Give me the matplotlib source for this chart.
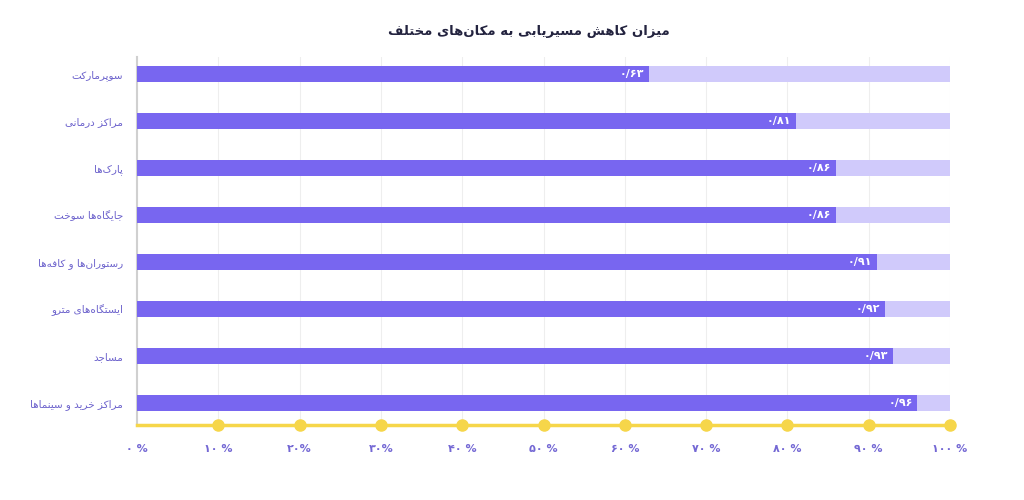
import matplotlib
matplotlib.use('Agg')
import matplotlib.pyplot as plt

plt.rcParams['font.family'] = ['DejaVu Sans']

title = 'میزان کاهش مسیریابی به مکان‌های مختلف'
categories = ['سوپرمارکت', 'مراکز درمانی', 'پارک‌ها', 'جایگاه‌ها سوخت',
              'رستوران‌ها و کافه‌ها', 'ایستگاه‌های مترو', 'مساجد', 'مراکز خرید و سینماها']
values = [0.63, 0.81, 0.86, 0.86, 0.91, 0.92, 0.93, 0.96]
value_labels = ['۰/۶۳', '۰/۸۱', '۰/۸۶', '۰/۸۶', '۰/۹۱', '۰/۹۲', '۰/۹۳', '۰/۹۶']
ticks = [0, 10, 20, 30, 40, 50, 60, 70, 80, 90, 100]
tick_labels = ['۰ %', '۱۰ %', '۲۰%', '۳۰%', '۴۰ %', '۵۰ %', '۶۰ %', '۷۰ %', '۸۰ %', '۹۰ %', '۱۰۰ %']

# isolated, final, initial, medial (right-joining letters have only two)
FORMS = {
    'ا': ('\uFE8D', '\uFE8E'), 'د': ('\uFEA9', '\uFEAA'), 'ر': ('\uFEAD', '\uFEAE'),
    'ز': ('\uFEAF', '\uFEB0'), 'و': ('\uFEED', '\uFEEE'),
    'ب': ('\uFE8F', '\uFE90', '\uFE91', '\uFE92'), 'پ': ('\uFB56', '\uFB57', '\uFB58', '\uFB59'),
    'ت': ('\uFE95', '\uFE96', '\uFE97', '\uFE98'), 'ج': ('\uFE9D', '\uFE9E', '\uFE9F', '\uFEA0'),
    'خ': ('\uFEA5', '\uFEA6', '\uFEA7', '\uFEA8'), 'س': ('\uFEB1', '\uFEB2', '\uFEB3', '\uFEB4'),
    'ش': ('\uFEB5', '\uFEB6', '\uFEB7', '\uFEB8'), 'ف': ('\uFED1', '\uFED2', '\uFED3', '\uFED4'),
    'ک': ('\uFB8E', '\uFB8F', '\uFB90', '\uFB91'), 'گ': ('\uFB92', '\uFB93', '\uFB94', '\uFB95'),
    'ل': ('\uFEDD', '\uFEDE', '\uFEDF', '\uFEE0'), 'م': ('\uFEE1', '\uFEE2', '\uFEE3', '\uFEE4'),
    'ن': ('\uFEE5', '\uFEE6', '\uFEE7', '\uFEE8'), 'ه': ('\uFEE9', '\uFEEA', '\uFEEB', '\uFEEC'),
    'ی': ('\uFBFC', '\uFBFD', '\uFBFE', '\uFBFF'),
}


def fa(text):
    out = []
    for i, c in enumerate(text):
        if c not in FORMS:
            if c != '\u200c':
                out.append(c)
            continue
        prev = text[i - 1] if i > 0 else ''
        nxt = text[i + 1] if i + 1 < len(text) else ''
        join_prev = prev in FORMS and len(FORMS[prev]) == 4
        join_next = len(FORMS[c]) == 4 and nxt in FORMS
        f = FORMS[c]
        if join_prev and join_next:
            out.append(f[3])
        elif join_prev:
            out.append(f[1])
        elif join_next:
            out.append(f[2])
        else:
            out.append(f[0])
    return ''.join(reversed(out))


dark = '#7866f0'
light = '#d0cafb'
label_color = '#6c62cc'
yellow = '#f6d64a'

fig = plt.figure(figsize=(10.24, 5.0), dpi=100)
ax = fig.add_axes([137 / 1024, 1 - 425 / 500, 813 / 1024, (425 - 57) / 500])

y = list(range(len(categories)))
pct = [v * 100 for v in values]
ax.barh(y, [100] * len(y), height=0.34, color=light, zorder=2)
ax.barh(y, pct, height=0.34, color=dark, zorder=3)
for yi, p, lab in zip(y, pct, value_labels):
    ax.text(p - 0.6, yi, lab, color='white', fontsize=8, fontweight='bold',
            ha='right', va='center', zorder=4)

ax.set_xlim(0, 100)
ax.set_ylim(7.47, -0.36)
ax.set_yticks(y)
ax.set_yticklabels([fa(c) for c in categories], color=label_color, fontsize=7.5)
ax.set_xticks(ticks)
ax.set_xticklabels(tick_labels, color='#7468d4', fontsize=8, fontweight='bold')
ax.tick_params(axis='y', length=0, pad=10)
ax.tick_params(axis='x', length=0, pad=14)
ax.grid(axis='x', color='#eeeeee', linewidth=0.8, zorder=0)
for s in ['top', 'right', 'bottom']:
    ax.spines[s].set_visible(False)
ax.spines['left'].set_color('#d0d0d0')
ax.spines['left'].set_linewidth(1.5)

ax.plot([0, 100], [7.47, 7.47], color=yellow, linewidth=2.5, clip_on=False, zorder=5)
ax.plot(ticks[1:], [7.47] * len(ticks[1:]), 'o', color=yellow, markersize=8,
        clip_on=False, zorder=6)

fig.text(529 / 1024, 1 - 32 / 500, fa(title), ha='center', va='center',
         fontsize=9.5, fontweight='bold', color='#23233f')

fig.savefig('out.png', dpi=100, facecolor='white')
